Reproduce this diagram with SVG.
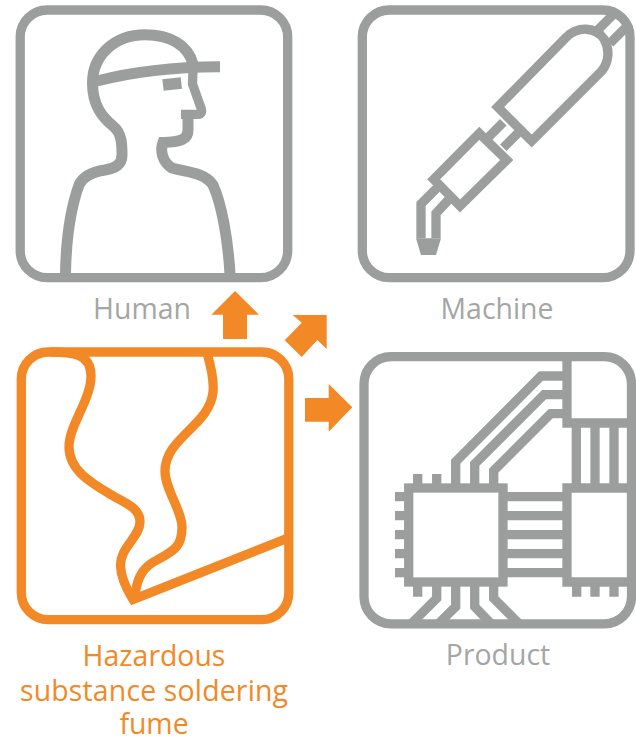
<svg xmlns="http://www.w3.org/2000/svg" width="636" height="737" viewBox="0 0 636 737">
<style>
.g{fill:none;stroke:#9c9e9d;stroke-width:9.3}
.f{stroke-width:11}
.o{fill:none;stroke:#f28926;stroke-width:9.3}
.a{fill:#f28926}
text{font-family:"Open Sans","Liberation Sans",sans-serif;font-size:28.4px;text-anchor:middle}
.tg{fill:#a4a6a5}
.to{fill:#f28926}
</style>
<rect width="636" height="737" fill="#fff"/>
<g id="human">
<rect class="g" x="20.2" y="10" width="267.5" height="267.7" rx="27"/>
<path class="g f" d="M220 66.7C180 67 135 71 97 81"/>
<path class="g f" d="M193 64C188 45 170 34.7 145 34.7C115 34.7 92.5 55 92.5 83C92.5 105 102 117 113 126C122 133 122 145 122 155C122 165 115 168 105 170C92 172 83 176 79 185C70 210 66 245 65.5 274"/>
<path class="g" d="M193 70L192.5 84L201 108Q203 114.300 198 114.300L181 114.300"/>
<path class="g f" d="M188 114V130C188 140 180 142 163 142.500C160 150 162 162 172 168C185 172 205 172 213 185C222 205 228 240 230 274"/>
<path fill="#9c9e9d" d="M162.300 79.300L180.700 77.300L182 88.700L163.700 90.700Z"/>
<text class="tg" x="142" y="319">Human</text>
</g>
<g id="machine">
<rect class="g" x="362.300" y="10" width="267.700" height="267.700" rx="27"/>
<path class="g" d="M497.700 107L566 37.500C578 25.500 596 27 604 39C610 49 609 62 601.700 71L531.700 141Z"/>
<path class="g" d="M598 29.700L616 11.700M610 43.300L630 23.300"/>
<path class="g" d="M486.700 139L503.300 122.300M503.300 147.700L520 131"/>
<path class="g" d="M433.700 179.300L479.300 133.300L506.700 160L460 206Z"/>
<path class="g" d="M436.700 188.300L421 204V238.300M448.300 200L436 213.300V238.300"/>
<path fill="#9c9e9d" d="M416 238.300H441L436 255H421Z"/>
<text class="tg" x="497" y="319">Machine</text>
</g>
<g id="product">
<rect class="g" x="364" y="356.700" width="267.500" height="267.100" rx="27"/>
<rect class="g" x="408.700" y="488" width="94.300" height="94"/>
<path class="g" d="M395 496.700H408.700M395 515.700H408.700M395 534.700H408.700M395 553.700H408.700M395 572.700H408.700"/>
<path class="g" d="M417.700 474V488M436.700 474V488"/>
<path class="g" d="M455.700 488V461.700L541 376H567M474.700 488V464L544 394.700H567M493.700 488V470.700L550.700 413.700H567"/>
<path class="g" d="M567 356.700V423H631.500"/>
<path class="g" d="M576.300 423V488M595 423V488M614 423V488"/>
<path class="g" d="M631.500 488H567V582H631.500"/>
<path class="g" d="M576.700 582V596.700M595 582V596.700M614 582V596.700"/>
<path class="g" d="M503 496.700H567M503 515.700H567M503 534.700H567M503 553.700H567M503 572.700H567"/>
<path class="g" d="M417.700 582V596.700M436.700 582V598.300L411 624M455.700 582V606.700L438 624M474.700 582V606.700L491.300 624M493.700 582V598.300L519.400 624"/>
<text class="tg" x="498" y="665">Product</text>
</g>
<g id="fume">
<rect class="o" x="21.300" y="352" width="267.500" height="267.700" rx="27"/>
<path class="o" d="M50 352C72 352 91 353 91 376C91 400 69 425 69 447C69 472 95 485 115 497C130 505 140 510 140 522C140 537 120 547 120.500 566C121 578 127 590 133 599.500L288 538"/>
<path class="o" d="M207 353C212 370 214 382 213 392C210 425 165 438 165 471C165 490 182 510 182 527C182 545 176 550 157 560C145 566 137 575 135 596"/>
<text class="to" x="154" y="666">Hazardous</text>
<text class="to" x="154" y="701" textLength="268">substance soldering</text>
<text class="to" x="154" y="734">fume</text>
</g>
<g id="connectors">
<path class="a" d="M235 291L259 314.700H247V339H223V314.700H211.300Z"/>
<path class="a" d="M292.700 315H326.700V349L317.300 340L301.700 357L284.700 340.300L301.700 322.700Z"/>
<path class="a" d="M305 398H328.700V384L352.300 407.300L328.700 431.700V421.700H305Z"/>
</g>
</svg>
